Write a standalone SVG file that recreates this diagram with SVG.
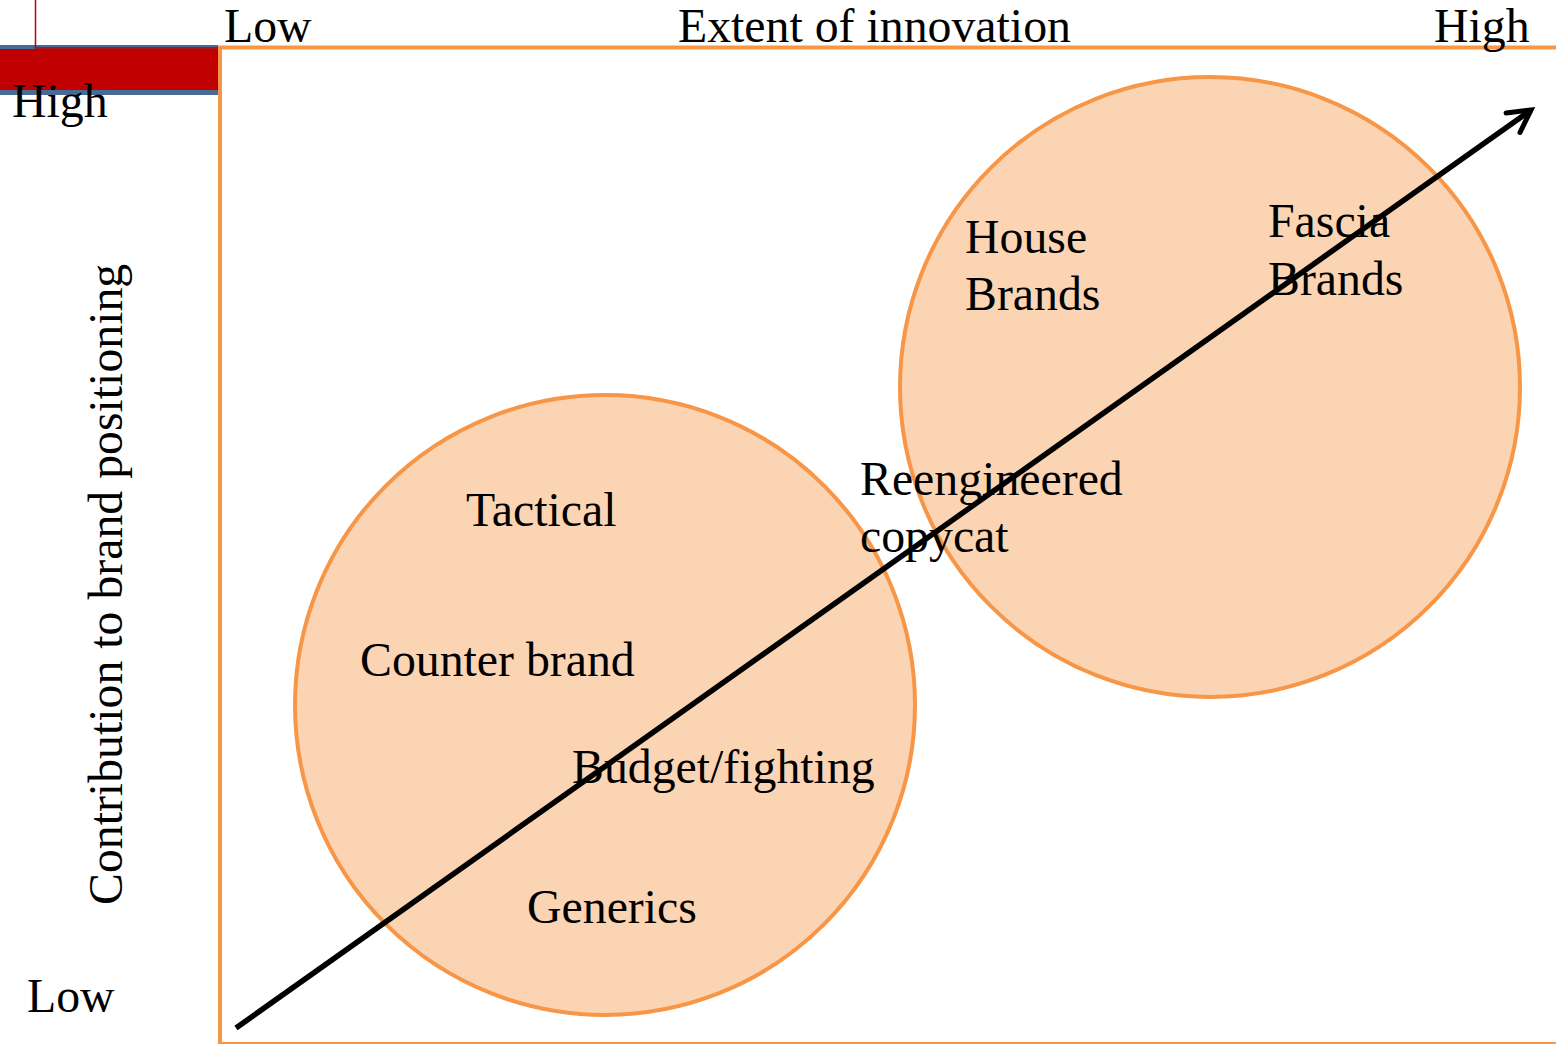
<svg xmlns="http://www.w3.org/2000/svg" width="1556" height="1044" viewBox="0 0 1556 1044">
<style>
  text { font-family: "Liberation Serif", "Times New Roman", serif; font-size: 47.8px; fill: #000; }
  .circle { fill: #FBD4B4; stroke: #F79646; stroke-width: 4; }
  .frame { stroke: #F79646; fill: none; }
  .conn { stroke: #000; stroke-width: 5.5; fill: none; }
</style>
<defs>
  <marker id="arrow" viewBox="0 0 30 30" refX="25" refY="15" markerWidth="30" markerHeight="30" markerUnits="userSpaceOnUse" orient="auto">
    <path d="M3,3 L25,15 L3,27" fill="none" stroke="#000" stroke-width="5" stroke-linecap="round" stroke-linejoin="miter"/>
  </marker>
</defs>
<rect width="1556" height="1044" fill="#fff"/>
<g id="decor">
  <rect x="0" y="45" width="218" height="50" fill="#4A6A96"/>
  <rect x="0" y="49" width="218" height="41" fill="#C00000"/>
  <path d="M35.5,0 V48 H218" stroke="#C00000" stroke-width="1.5" fill="none"/>
</g>
<g id="frame">
  <line class="frame" x1="220" y1="46" x2="220" y2="1044" stroke-width="4"/>
  <line class="frame" x1="218" y1="47.5" x2="1556" y2="47.5" stroke-width="4"/>
  <line class="frame" x1="218" y1="1043" x2="1556" y2="1043" stroke-width="2"/>
</g>
<g id="axis-labels">
  <text x="224" y="42">Low</text>
  <text x="678" y="42">Extent of innovation</text>
  <text x="1434" y="42">High</text>
  <text x="12" y="117">High</text>
  <text x="27" y="1012">Low</text>
  <text transform="translate(122,905) rotate(-90)">Contribution to brand positioning</text>
</g>
<g id="node-low-circle">
  <circle class="circle" cx="605" cy="705" r="310"/>
</g>
<g id="node-high-circle">
  <circle class="circle" cx="1210" cy="387" r="310"/>
</g>
<g id="connectors">
  <line class="conn" x1="236" y1="1028" x2="1531" y2="110" marker-end="url(#arrow)"/>
</g>
<g id="node-tactical"><text x="466" y="526">Tactical</text></g>
<g id="node-counter-brand"><text x="360" y="676">Counter brand</text></g>
<g id="node-budget"><text x="572" y="783">Budget/fighting</text></g>
<g id="node-generics"><text x="527" y="923">Generics</text></g>
<g id="node-reengineered"><text x="860" y="495">Reengineered</text><text x="860" y="552">copycat</text></g>
<g id="node-house"><text x="965" y="253">House</text><text x="965" y="310">Brands</text></g>
<g id="node-fascia"><text x="1268" y="237">Fascia</text><text x="1268" y="295">Brands</text></g>
</svg>
